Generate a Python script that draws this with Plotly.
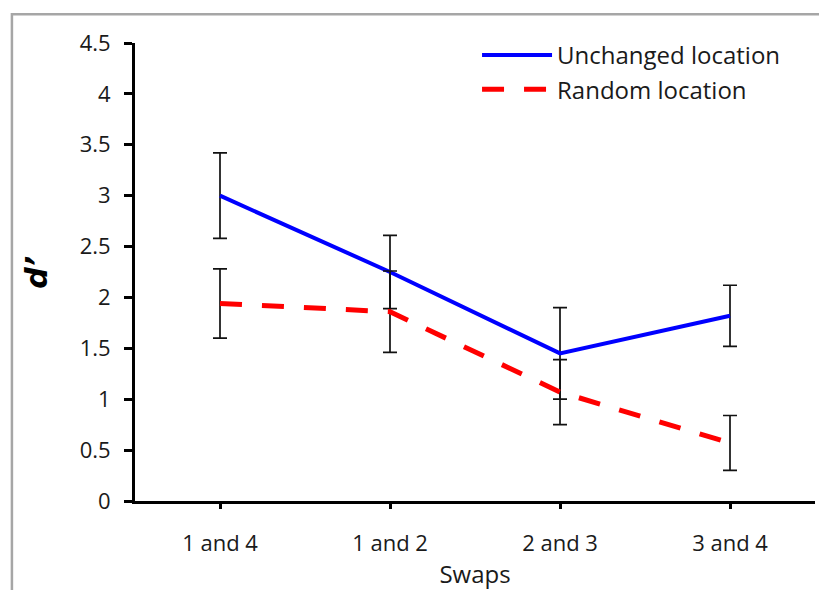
import plotly.graph_objects as go

categories = ["1 and 4", "1 and 2", "2 and 3", "3 and 4"]
unchanged = [3.0, 2.25, 1.45, 1.82]
unchanged_err = [0.42, 0.36, 0.45, 0.30]
random_loc = [1.94, 1.86, 1.07, 0.57]
random_err = [0.34, 0.40, 0.32, 0.27]
y_ticks = [0, 0.5, 1, 1.5, 2, 2.5, 3, 3.5, 4, 4.5]
y_tick_text = ["0", "0.5", "1", "1.5", "2", "2.5", "3", "3.5", "4", "4.5"]

FONT = "Open Sans"

fig = go.Figure()
fig.add_trace(go.Scatter(
    x=categories, y=unchanged, mode="lines", name="Unchanged location",
    line=dict(color="#0000ff", width=4),
    error_y=dict(type="data", array=unchanged_err, visible=True,
                 color="#111111", thickness=1.7, width=7),
))
fig.add_trace(go.Scatter(
    x=categories, y=random_loc, mode="lines", name="Random location",
    line=dict(color="#ff0000", width=5, dash="22px,20px"),
    error_y=dict(type="data", array=random_err, visible=True,
                 color="#111111", thickness=1.7, width=7),
))

fig.update_layout(
    width=819, height=582,
    margin=dict(l=127, r=12, t=35, b=89),
    paper_bgcolor="white", plot_bgcolor="white",
    font=dict(family=FONT, color="#1a1a1a"),
    showlegend=True,
    legend=dict(x=0.503, y=1.022, xanchor="left", yanchor="top",
                font=dict(size=24, family=FONT), bgcolor="rgba(0,0,0,0)",
                tracegroupgap=0, itemwidth=70),
    xaxis=dict(
        type="category", range=[-0.5, 3.5], automargin=False,
        showline=True, linecolor="black", linewidth=3,
        ticks="outside", ticklen=5, tickwidth=3, tickcolor="black",
        tickfont=dict(size=22, family=FONT), ticklabelstandoff=16,
        showgrid=False, zeroline=False,
        title=dict(text="Swaps", font=dict(size=24, family=FONT), standoff=16),
    ),
    yaxis=dict(
        range=[0, 4.5], tickvals=y_ticks, ticktext=y_tick_text, automargin=False,
        showline=True, linecolor="black", linewidth=3,
        ticks="outside", ticklen=8, tickwidth=3, tickcolor="black",
        tickfont=dict(size=22, family=FONT), ticklabelstandoff=9,
        showgrid=False, zeroline=False,
    ),
    shapes=[dict(type="rect", xref="paper", yref="paper",
                 x0=-0.181, x1=1.2, y0=-0.3, y1=1.063,
                 line=dict(color="#a6a6a6", width=2.5), layer="below")],
    annotations=[dict(text="<b><i>d’</i></b>", xref="paper", yref="paper",
                      x=-0.146, y=0.5, textangle=-90, showarrow=False,
                      font=dict(size=30, family="DejaVu Sans", color="black"),
                      xanchor="center", yanchor="middle")],
)

fig.write_html("out.html")
